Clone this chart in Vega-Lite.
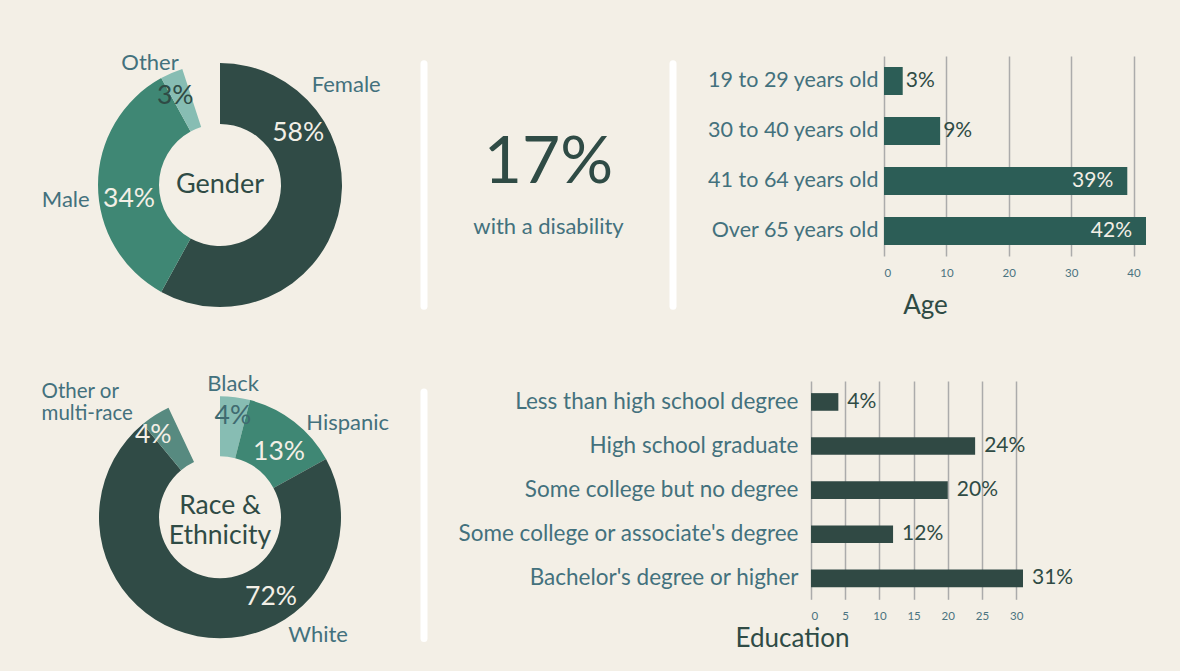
{
  "$schema": "https://vega.github.io/schema/vega-lite/v6.json",
  "background": "#F3EFE6",
  "padding": {"left": 20, "top": 51, "right": 40, "bottom": 30},
  "config": {
    "view": {"stroke": null},
    "font": "Lato",
    "axis": {"labelFont": "Lato", "titleFont": "Lato", "titleFontWeight": "normal"}
  },
  "datasets": {
    "gender": [
      {"cat": "Female", "pct": 58, "label": "58%", "rank": 1},
      {"cat": "Male", "pct": 34, "label": "34%", "rank": 2},
      {"cat": "Other", "pct": 3, "label": "3%", "rank": 3}
    ],
    "race": [
      {"cat": "Black", "pct": 4, "label": "4%", "rank": 1},
      {"cat": "Hispanic", "pct": 13, "label": "13%", "rank": 2},
      {"cat": "White", "pct": 72, "label": "72%", "rank": 3},
      {"cat": "Other or\nmulti-race", "pct": 4, "label": "4%", "rank": 4}
    ],
    "age": [
      {"group": "19 to 29 years old", "pct": 3, "label": "3%"},
      {"group": "30 to 40 years old", "pct": 9, "label": "9%"},
      {"group": "41 to 64 years old", "pct": 39, "label": "39%"},
      {"group": "Over 65 years old", "pct": 42, "label": "42%"}
    ],
    "edu": [
      {"level": "Less than high school degree", "pct": 4, "label": "4%"},
      {"level": "High school graduate", "pct": 24, "label": "24%"},
      {"level": "Some college but no degree", "pct": 20, "label": "20%"},
      {"level": "Some college or associate's degree", "pct": 12, "label": "12%"},
      {"level": "Bachelor's degree or higher", "pct": 31, "label": "31%"}
    ]
  },
  "spacing": 53,
  "vconcat": [
    {
      "hconcat": [
        {
          "width": 400,
          "height": 258,
          "layer": [
            {
              "data": {"name": "gender"},
              "transform": [{"stack": "pct", "groupby": [], "sort": [{"field": "rank", "order": "ascending"}], "as": ["t0", "t1"]}],
              "mark": {"type": "arc", "outerRadius": 122, "innerRadius": 61},
              "encoding": {
                "theta": {"field": "t0", "type": "quantitative", "scale": {"domain": [0, 100]}},
                "theta2": {"field": "t1"},
                "color": {"field": "cat", "type": "nominal", "legend": null,
                  "scale": {"domain": ["Female", "Male", "Other"], "range": ["#304B46", "#3F8774", "#87BDB3"]}}
              }
            },
            {
              "data": {"name": "gender"},
              "transform": [{"stack": "pct", "groupby": [], "sort": [{"field": "rank", "order": "ascending"}], "as": ["t0", "t1"]}, {"filter": "datum.cat === 'Female'"}],
              "layer": [
                {"mark": {"type": "text", "radius": 94, "thetaOffset": 0.983, "fontSize": 26.5, "color": "#F3EFE6"},
                 "encoding": {"theta": {"field": "t0", "type": "quantitative"}, "text": {"field": "label"}}},
                {"mark": {"type": "text", "radius": 161, "thetaOffset": 0.901, "fontSize": 22, "color": "#43717D"},
                 "encoding": {"theta": {"field": "t0", "type": "quantitative"}, "text": {"field": "cat"}}}
              ]
            },
            {
              "data": {"name": "gender"},
              "transform": [{"stack": "pct", "groupby": [], "sort": [{"field": "rank", "order": "ascending"}], "as": ["t0", "t1"]}, {"filter": "datum.cat === 'Male'"}],
              "layer": [
                {"mark": {"type": "text", "radius": 92, "thetaOffset": 0.916, "fontSize": 26.5, "color": "#F3EFE6"},
                 "encoding": {"theta": {"field": "t0", "type": "quantitative"}, "text": {"field": "label"}}},
                {"mark": {"type": "text", "radius": 155, "thetaOffset": 0.972, "fontSize": 22, "color": "#43717D"},
                 "encoding": {"theta": {"field": "t0", "type": "quantitative"}, "text": {"field": "cat"}}}
              ]
            },
            {
              "data": {"name": "gender"},
              "transform": [{"stack": "pct", "groupby": [], "sort": [{"field": "rank", "order": "ascending"}], "as": ["t0", "t1"]}, {"filter": "datum.cat === 'Other'"}],
              "layer": [
                {"mark": {"type": "text", "radius": 100, "thetaOffset": 0.038, "fontSize": 26.5, "color": "#2F4B45"},
                 "encoding": {"theta": {"field": "t0", "type": "quantitative"}, "text": {"field": "label"}}},
                {"mark": {"type": "text", "radius": 141, "thetaOffset": -0.017, "fontSize": 22, "color": "#43717D"},
                 "encoding": {"theta": {"field": "t0", "type": "quantitative"}, "text": {"field": "cat"}}}
              ]
            },
            {
              "data": {"values": [{"title": "Gender"}]},
              "mark": {"type": "text", "fontSize": 27, "color": "#2F4B45"},
              "encoding": {"text": {"field": "title", "type": "nominal"}}
            }
          ]
        },
        {
          "width": 249,
          "height": 258,
          "layer": [
            {
              "data": {"values": [{"edge": 0}, {"edge": 1}]},
              "mark": {"type": "rule", "color": "#FFFFFF", "strokeWidth": 7, "strokeCap": "round"},
              "encoding": {
                "x": {"field": "edge", "type": "quantitative", "scale": {"domain": [0, 1]}, "axis": null},
                "y": {"datum": 0.03, "type": "quantitative", "scale": {"domain": [0, 1]}, "axis": null},
                "y2": {"datum": 0.97}
              }
            },
            {
              "data": {"values": [{"stat": "17%", "desc": "with a disability"}]},
              "layer": [
                {
                  "mark": {"type": "text", "fontSize": 66, "color": "#2F4B45", "baseline": "alphabetic", "dy": -2},
                  "encoding": {"text": {"field": "stat", "type": "nominal"}}
                },
                {
                  "mark": {"type": "text", "fontSize": 22, "color": "#43717D", "baseline": "middle", "dy": 42},
                  "encoding": {"text": {"field": "desc", "type": "nominal"}}
                }
              ]
            }
          ]
        },
        {
          "width": 203,
          "height": 258,
          "data": {"values": []},
          "mark": "point",
          "encoding": {}
        },
        {
          "width": 262,
          "height": 200,
          "data": {"name": "age"},
          "encoding": {
            "y": {"field": "group", "type": "nominal", "sort": null,
              "scale": {"paddingInner": 0.44, "paddingOuter": 0.22},
              "axis": {"title": null, "domain": false, "ticks": false, "grid": false, "labelFontSize": 21.5, "labelColor": "#43717D", "labelPadding": 6, "labelLimit": 400}},
            "x": {"field": "pct", "type": "quantitative",
              "scale": {"domain": [0, 42], "nice": false},
              "axis": {"values": [0, 10, 20, 30, 40], "grid": true, "gridColor": "#ABABAB", "gridWidth": 1.5, "domain": false, "ticks": false,
                "labelFontSize": 11.5, "labelColor": "#4A7380", "labelPadding": 11,
                "title": "Age", "titleFontSize": 26, "titleColor": "#2F4B45", "titleX": 41, "titlePadding": 14}}
          },
          "layer": [
            {"mark": {"type": "bar", "color": "#2C5D56"}},
            {
              "transform": [{"filter": "datum.pct < 20"}],
              "mark": {"type": "text", "align": "left", "dx": 3, "fontSize": 21, "color": "#2F4B45"},
              "encoding": {"text": {"field": "label", "type": "nominal"}}
            },
            {
              "transform": [{"filter": "datum.pct >= 20"}],
              "mark": {"type": "text", "align": "right", "dx": -14, "fontSize": 21, "color": "#F3EFE6"},
              "encoding": {"text": {"field": "label", "type": "nominal"}}
            }
          ]
        }
      ],
      "bounds": "flush",
      "spacing": 4
    },
    {
      "hconcat": [
        {
          "width": 400,
          "height": 272.6,
          "layer": [
            {
              "data": {"name": "race"},
              "transform": [{"stack": "pct", "groupby": [], "sort": [{"field": "rank", "order": "ascending"}], "as": ["t0", "t1"]}],
              "mark": {"type": "arc", "outerRadius": 121, "innerRadius": 61},
              "encoding": {
                "theta": {"field": "t0", "type": "quantitative", "scale": {"domain": [0, 100]}},
                "theta2": {"field": "t1"},
                "color": {"field": "cat", "type": "nominal", "legend": null,
                  "scale": {"domain": ["Black", "Hispanic", "White", "Other or\nmulti-race"], "range": ["#87BDB3", "#3F8774", "#304B46", "#578A80"]}}
              }
            },
            {
              "data": {"name": "race"},
              "transform": [{"stack": "pct", "groupby": [], "sort": [{"field": "rank", "order": "ascending"}], "as": ["t0", "t1"]}, {"filter": "datum.rank === 1"}],
              "layer": [
                {"mark": {"type": "text", "radius": 102, "thetaOffset": 0.127, "fontSize": 26.5, "color": "#3F6A70"},
                 "encoding": {"theta": {"field": "t0", "type": "quantitative"}, "text": {"field": "label"}}},
                {"mark": {"type": "text", "radius": 134, "thetaOffset": 0.098, "fontSize": 22, "color": "#43717D"},
                 "encoding": {"theta": {"field": "t0", "type": "quantitative"}, "text": {"field": "cat"}}}
              ]
            },
            {
              "data": {"name": "race"},
              "transform": [{"stack": "pct", "groupby": [], "sort": [{"field": "rank", "order": "ascending"}], "as": ["t0", "t1"]}, {"filter": "datum.rank === 2"}],
              "layer": [
                {"mark": {"type": "text", "radius": 88, "thetaOffset": 0.485, "fontSize": 26.5, "color": "#F3EFE6"},
                 "encoding": {"theta": {"field": "t0", "type": "quantitative"}, "text": {"field": "label"}}},
                {"mark": {"type": "text", "radius": 159, "thetaOffset": 0.681, "fontSize": 22, "color": "#43717D"},
                 "encoding": {"theta": {"field": "t0", "type": "quantitative"}, "text": {"field": "cat"}}}
              ]
            },
            {
              "data": {"name": "race"},
              "transform": [{"stack": "pct", "groupby": [], "sort": [{"field": "rank", "order": "ascending"}], "as": ["t0", "t1"]}, {"filter": "datum.rank === 3"}],
              "layer": [
                {"mark": {"type": "text", "radius": 95, "thetaOffset": 1.506, "fontSize": 26.5, "color": "#F3EFE6"},
                 "encoding": {"theta": {"field": "t0", "type": "quantitative"}, "text": {"field": "label"}}},
                {"mark": {"type": "text", "radius": 153, "thetaOffset": 1.377, "fontSize": 22, "color": "#43717D"},
                 "encoding": {"theta": {"field": "t0", "type": "quantitative"}, "text": {"field": "cat"}}}
              ]
            },
            {
              "data": {"name": "race"},
              "transform": [{"stack": "pct", "groupby": [], "sort": [{"field": "rank", "order": "ascending"}], "as": ["t0", "t1"]}, {"filter": "datum.rank === 4"}],
              "layer": [
                {"mark": {"type": "text", "radius": 106, "thetaOffset": 0.01, "fontSize": 26.5, "color": "#F3EFE6"},
                 "encoding": {"theta": {"field": "t0", "type": "quantitative"}, "text": {"field": "label"}}},
                {"mark": {"type": "text", "radius": 218, "thetaOffset": -0.268, "fontSize": 20.5, "color": "#43717D", "align": "left", "lineBreak": "\n", "lineHeight": 22},
                 "encoding": {"theta": {"field": "t0", "type": "quantitative"}, "text": {"field": "cat"}}}
              ]
            },
            {
              "data": {"values": [{"title": "Race &\nEthnicity"}]},
              "mark": {"type": "text", "fontSize": 26.5, "color": "#2F4B45", "lineBreak": "\n", "lineHeight": 30, "dy": -11},
              "encoding": {"text": {"field": "title", "type": "nominal"}}
            }
          ]
        },
        {
          "width": 382.7,
          "height": 272.6,
          "data": {"values": [{"edge": 0}]},
          "mark": {"type": "rule", "color": "#FFFFFF", "strokeWidth": 7, "strokeCap": "round"},
          "encoding": {
            "x": {"field": "edge", "type": "quantitative", "scale": {"domain": [0, 1]}, "axis": null},
            "y": {"datum": 0.055, "type": "quantitative", "scale": {"domain": [0, 1]}, "axis": null},
            "y2": {"datum": 0.96}
          }
        },
        {
          "width": 212,
          "height": 218.3,
          "data": {"name": "edu"},
          "encoding": {
            "y": {"field": "level", "type": "nominal", "sort": null,
              "scale": {"paddingInner": 0.6, "paddingOuter": 0.275},
              "axis": {"title": null, "domain": false, "ticks": false, "grid": false, "labelFontSize": 22.5, "labelColor": "#43717D", "labelPadding": 13, "labelLimit": 500}},
            "x": {"field": "pct", "type": "quantitative",
              "scale": {"domain": [0, 31], "nice": false},
              "axis": {"values": [0, 5, 10, 15, 20, 25, 30], "grid": true, "gridColor": "#ABABAB", "gridWidth": 1.5, "domain": false, "ticks": false,
                "labelFontSize": 11.5, "labelColor": "#4A7380", "labelPadding": 11,
                "title": "Education", "titleFontSize": 26, "titleColor": "#2F4B45", "titleX": -19, "titlePadding": 4}}
          },
          "layer": [
            {"mark": {"type": "bar", "color": "#304944"}},
            {
              "mark": {"type": "text", "align": "left", "dx": 9, "fontSize": 21, "color": "#2F4B45"},
              "encoding": {"text": {"field": "label", "type": "nominal"}}
            }
          ]
        }
      ],
      "bounds": "flush",
      "spacing": 4
    }
  ],
  "resolve": {"scale": {"color": "independent", "theta": "independent"}}
}
